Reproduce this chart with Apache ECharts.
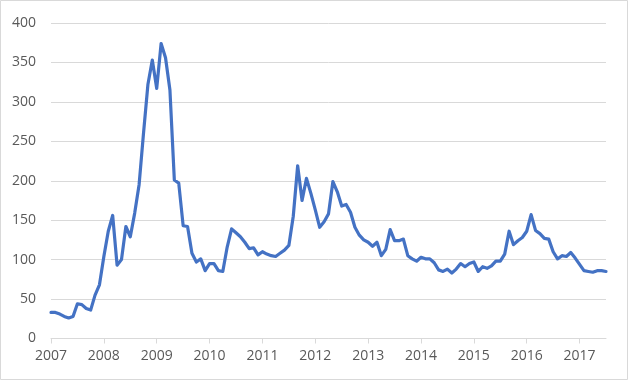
<!DOCTYPE html>
<html>
<head>
<meta charset="utf-8">
<script src="https://cdn.jsdelivr.net/npm/echarts@6/dist/echarts.min.js"></script>
<style>
html,body{margin:0;padding:0;background:#fff;}
#c{width:629px;height:381px;}
</style>
</head>
<body>
<div id="c"></div>
<script>
// Monthly values, Jan 2007 - Jul 2017
const startYear = 2007;
const values = [
  33, 33, 31, 28, 26, 28, 44, 43, 38, 36, 55, 68,
  104, 136, 156, 93, 100, 142, 129, 159, 195, 260, 322, 353,
  317, 374, 356, 315, 201, 197, 143, 142, 108, 97, 101, 86,
  95, 95, 86, 85, 116, 139, 134, 129, 122, 114, 115, 106,
  110, 107, 105, 104, 108, 112, 118, 155, 219, 175, 203, 184,
  163, 141, 148, 158, 199, 186, 168, 170, 160, 141, 131, 125,
  122, 117, 122, 105, 113, 138, 124, 124, 126, 105, 101, 98,
  103, 101, 101, 96, 87, 85, 88, 83, 88, 95, 91, 95,
  97, 85, 91, 89, 92, 98, 98, 107, 136, 119, 124, 128,
  136, 157, 137, 133, 127, 126, 110, 101, 105, 104, 109, 102,
  94, 86, 85, 84, 86, 86, 85
];
const yearTicks = [2007, 2008, 2009, 2010, 2011, 2012, 2013, 2014, 2015, 2016, 2017];
const yTicks = [0, 50, 100, 150, 200, 250, 300, 350, 400];

const seriesData = values.map((v, i) => [startYear + i / 12, v]);
const xMax = startYear + (values.length - 1) / 12;

const chart = echarts.init(document.getElementById('c'), null, {renderer: 'canvas'});
const font = '"Open Sans", "Liberation Sans", sans-serif';
chart.setOption({
  animation: false,
  backgroundColor: '#ffffff',
  graphic: [{
    type: 'rect',
    shape: {x: 0.5, y: 0.5, width: 627, height: 379},
    style: {fill: 'none', stroke: '#d9d9d9', lineWidth: 1},
    silent: true
  }],
  grid: {left: 51, right: 23, top: 23, bottom: 42.5},
  xAxis: {
    type: 'value',
    min: startYear,
    max: xMax,
    interval: 1,
    axisLine: {show: true, lineStyle: {color: '#d9d9d9', width: 1}},
    axisTick: {show: true, length: 5, customValues: yearTicks, lineStyle: {color: '#d9d9d9'}},
    axisLabel: {
      customValues: yearTicks,
      color: '#595959', fontSize: 14, fontFamily: font, margin: 11,
      formatter: v => String(Math.round(v))
    },
    splitLine: {show: false}
  },
  yAxis: {
    type: 'value',
    min: 0, max: 400, interval: 50,
    axisLine: {show: false},
    axisTick: {show: false},
    axisLabel: {
      customValues: yTicks,
      color: '#595959', fontSize: 14, fontFamily: font, margin: 15
    },
    splitLine: {show: true, lineStyle: {color: '#d9d9d9', width: 1}}
  },
  series: [{
    type: 'line',
    data: seriesData,
    showSymbol: false,
    symbol: 'none',
    lineStyle: {color: '#4472c4', width: 3.2, join: 'round', cap: 'round'},
    itemStyle: {color: '#4472c4'}
  }]
});
</script>
</body>
</html>
